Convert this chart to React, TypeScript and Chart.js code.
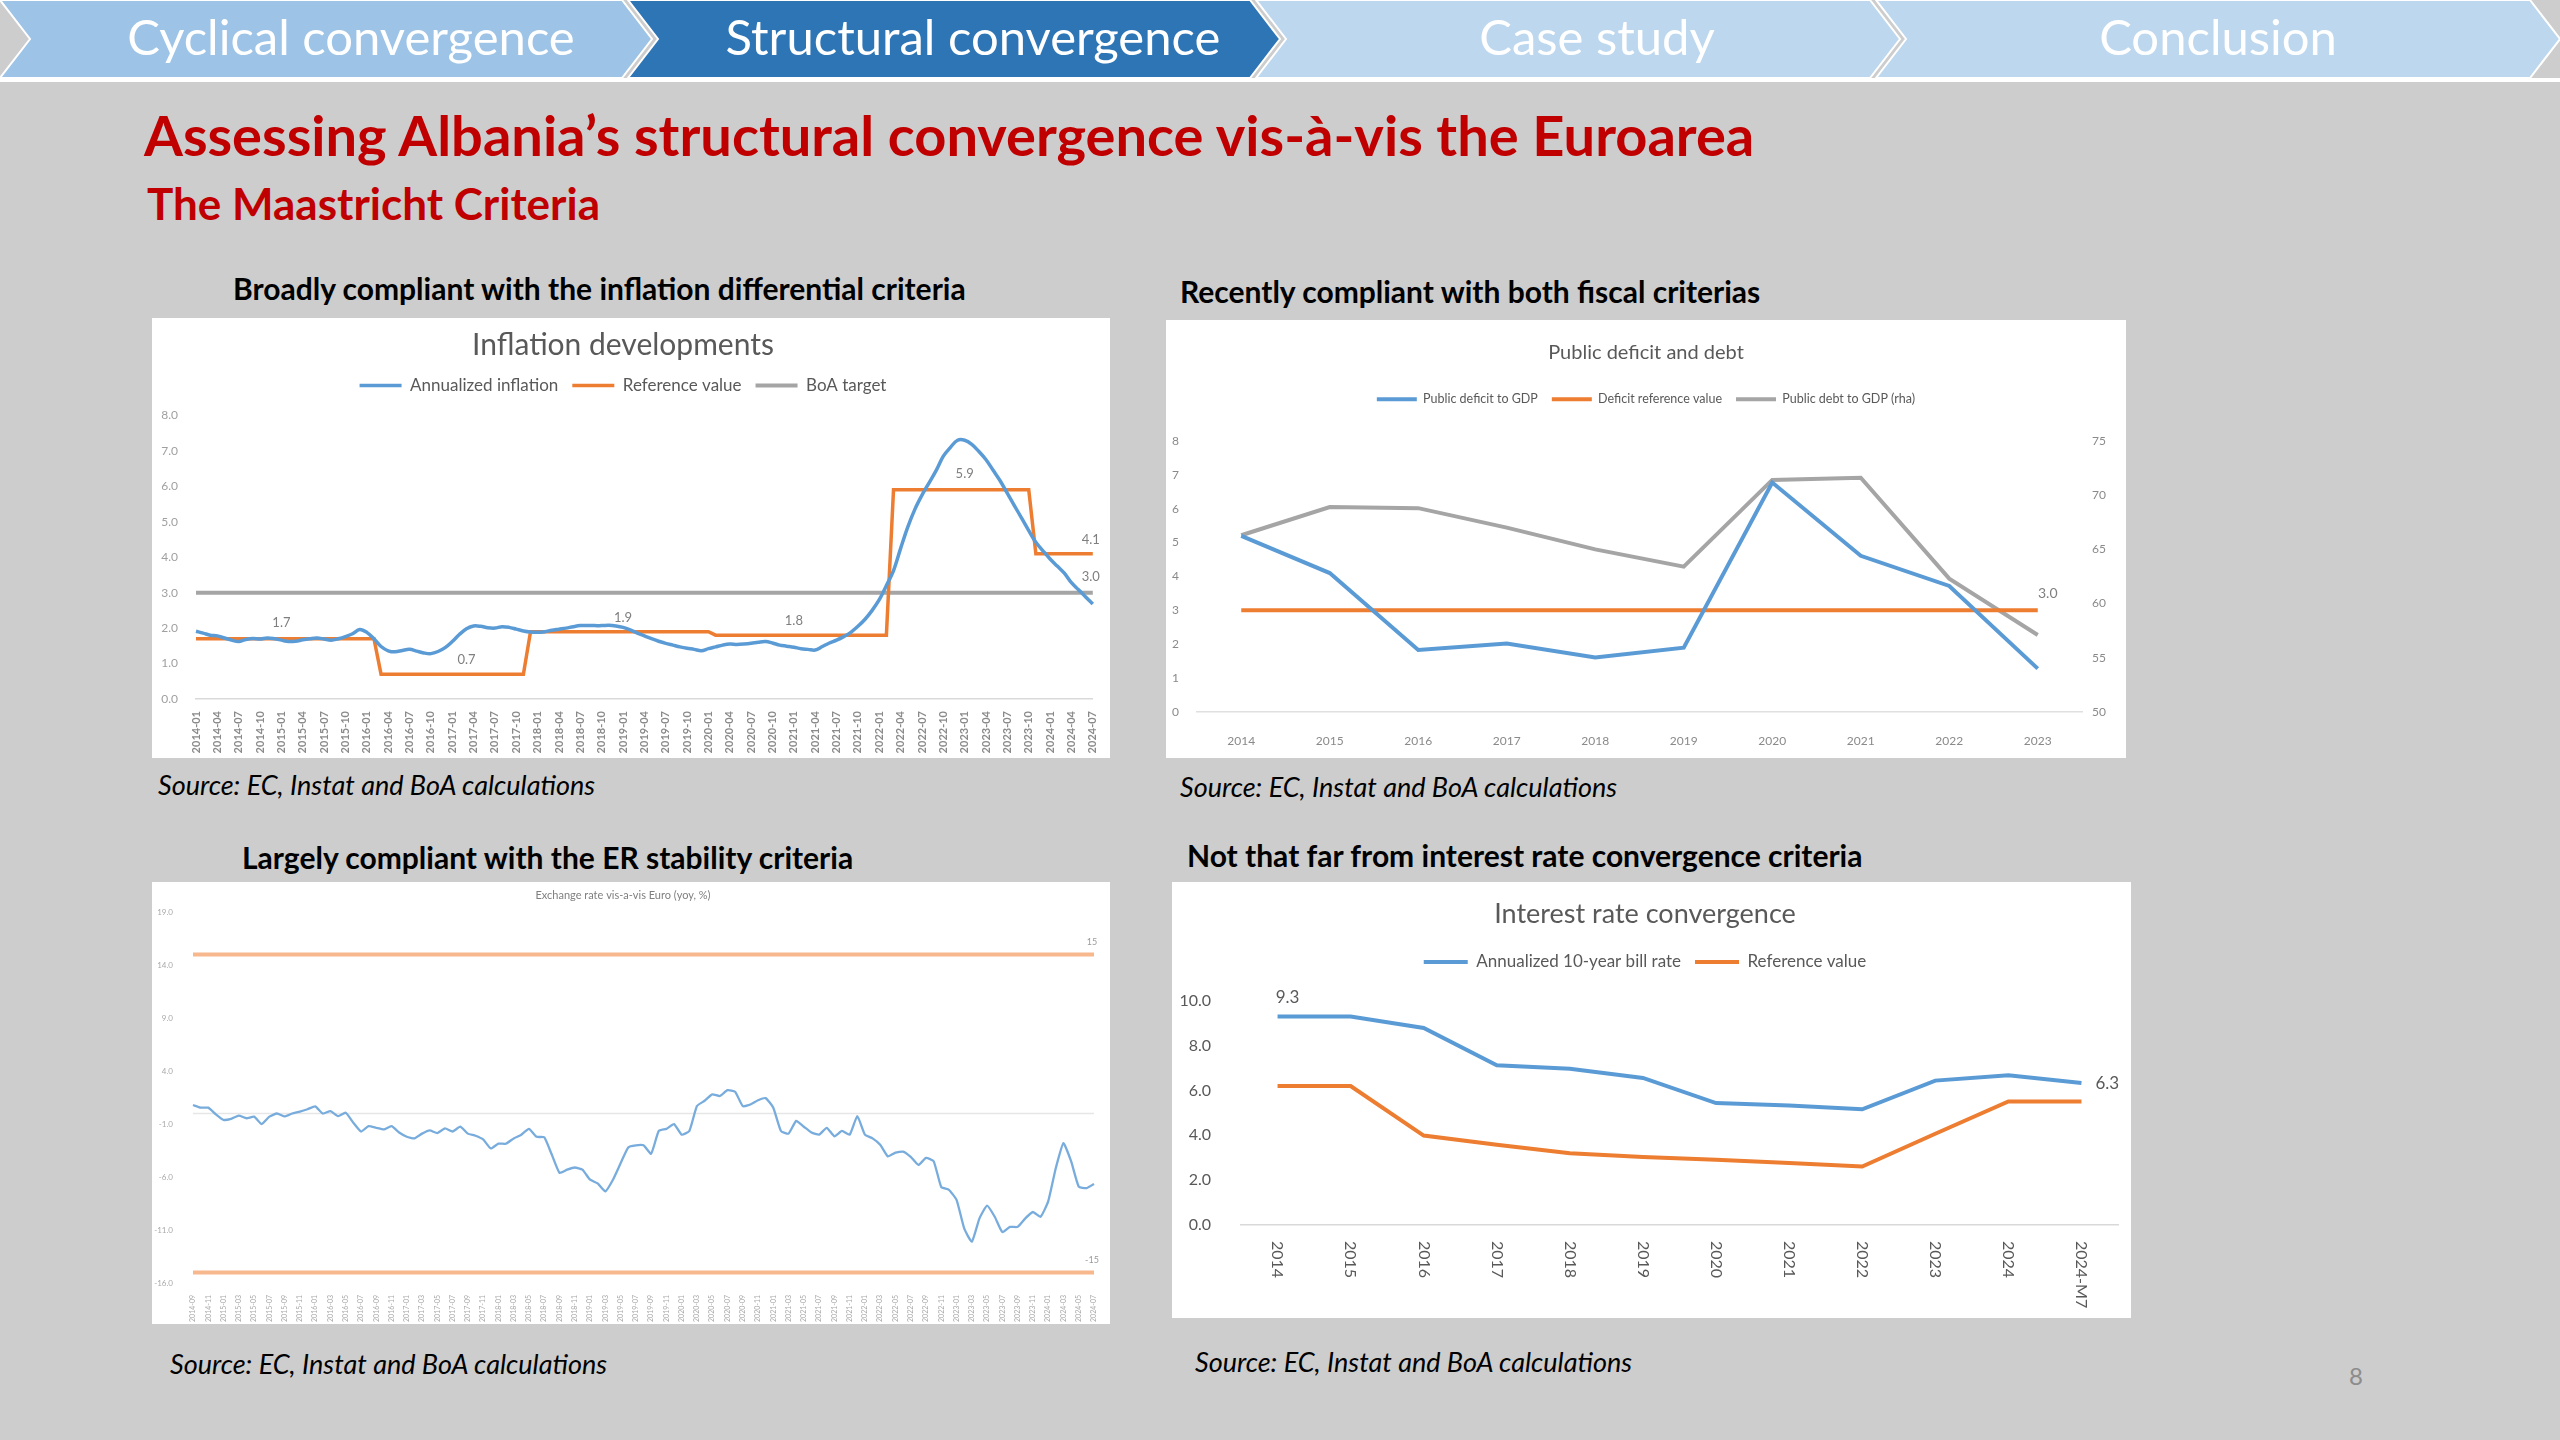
import React, { useEffect, useRef } from 'react';
import { Chart, registerables } from 'chart.js';

Chart.register(...registerables);

const FONT = 'Lato, "Open Sans", "DejaVu Sans", sans-serif';

// ---------- helpers for category labels ----------
function monthLabels(y: number, m: number, n: number): string[] {
  const out: string[] = [];
  for (let i = 0; i < n; i++) {
    const yy = y + Math.floor((m - 1 + i) / 12);
    const mm = ((m - 1 + i) % 12) + 1;
    out.push(`${yy}-${String(mm).padStart(2, '0')}`);
  }
  return out;
}

// ---------- Inflation developments (monthly 2014-01 .. 2024-07) ----------
const inflLabels = monthLabels(2014, 1, 127);
const inflAnnual = [
  1.91, 1.86, 1.80, 1.78, 1.72, 1.66, 1.62, 1.68, 1.71, 1.69, 1.72, 1.70,
  1.66, 1.62, 1.63, 1.67, 1.70, 1.72, 1.69, 1.66, 1.70, 1.76, 1.84, 1.96,
  1.88, 1.70, 1.48, 1.36, 1.33, 1.37, 1.40, 1.35, 1.30, 1.28, 1.34, 1.45,
  1.62, 1.82, 1.98, 2.06, 2.05, 2.01, 2.00, 2.04, 2.02, 1.97, 1.92, 1.89,
  1.88, 1.90, 1.94, 1.97, 2.00, 2.04, 2.07, 2.07, 2.07, 2.07, 2.08, 2.06,
  2.02, 1.95, 1.86, 1.78, 1.70, 1.63, 1.57, 1.52, 1.47, 1.43, 1.40, 1.36,
  1.42, 1.47, 1.52, 1.55, 1.54, 1.55, 1.57, 1.60, 1.62, 1.58, 1.52, 1.49,
  1.46, 1.42, 1.40, 1.38, 1.48, 1.58, 1.66, 1.76, 1.88, 2.05, 2.25, 2.50,
  2.80, 3.20, 3.62, 4.25, 4.85, 5.35, 5.75, 6.10, 6.45, 6.85, 7.10, 7.30,
  7.30, 7.18, 6.98, 6.75, 6.45, 6.15, 5.80, 5.45, 5.10, 4.75, 4.42, 4.18,
  3.95, 3.75, 3.55, 3.28, 3.08, 2.88, 2.68,
];
const inflReference = [
  1.7, 1.7, 1.7, 1.7, 1.7, 1.7, 1.7, 1.7, 1.7, 1.7, 1.7, 1.7,
  1.7, 1.7, 1.7, 1.7, 1.7, 1.7, 1.7, 1.7, 1.7, 1.7, 1.7, 1.7,
  1.7, 1.7, 0.7, 0.7, 0.7, 0.7, 0.7, 0.7, 0.7, 0.7, 0.7, 0.7,
  0.7, 0.7, 0.7, 0.7, 0.7, 0.7, 0.7, 0.7, 0.7, 0.7, 0.7, 1.9,
  1.9, 1.9, 1.9, 1.9, 1.9, 1.9, 1.9, 1.9, 1.9, 1.9, 1.9, 1.9,
  1.9, 1.9, 1.9, 1.9, 1.9, 1.9, 1.9, 1.9, 1.9, 1.9, 1.9, 1.9,
  1.9, 1.8, 1.8, 1.8, 1.8, 1.8, 1.8, 1.8, 1.8, 1.8, 1.8, 1.8,
  1.8, 1.8, 1.8, 1.8, 1.8, 1.8, 1.8, 1.8, 1.8, 1.8, 1.8, 1.8,
  1.8, 1.8, 5.9, 5.9, 5.9, 5.9, 5.9, 5.9, 5.9, 5.9, 5.9, 5.9,
  5.9, 5.9, 5.9, 5.9, 5.9, 5.9, 5.9, 5.9, 5.9, 5.9, 4.1, 4.1,
  4.1, 4.1, 4.1, 4.1, 4.1, 4.1, 4.1,
];
const boaTarget = [3.0, 3.0]; // constant from first to last month

// ---------- Public deficit and debt ----------
const fiscalYears = ['2014', '2015', '2016', '2017', '2018', '2019', '2020', '2021', '2022', '2023'];
const publicDeficit = [5.2, 4.1, 1.83, 2.02, 1.61, 1.9, 6.77, 4.61, 3.72, 1.28];
const deficitReference = [3.0, 3.0, 3.0, 3.0, 3.0, 3.0, 3.0, 3.0, 3.0, 3.0];
const publicDebt = [66.3, 68.9, 68.8, 67.0, 65.0, 63.4, 71.4, 71.6, 62.3, 57.1];

// ---------- Exchange rate vis-a-vis Euro (yoy, %) ----------
const erLabels = monthLabels(2014, 9, 119);
const erYoy = [
  0.8, 0.55, 0.55, -0.08, -0.6, -0.5, -0.2, -0.45, -0.3, -1.0,
  -0.3, 0.0, -0.27, 0.0, 0.17, 0.4, 0.68, 0.0, 0.23, -0.25,
  0.07, -0.87, -1.7, -1.2, -1.35, -1.5, -1.2, -1.8, -2.2, -2.35,
  -1.9, -1.6, -1.85, -1.4, -1.7, -1.25, -1.9, -2.1, -2.45, -3.3,
  -2.85, -2.85, -2.35, -2.0, -1.45, -2.2, -2.25, -3.9, -5.6, -5.3,
  -5.1, -5.3, -6.25, -6.6, -7.35, -6.25, -4.7, -3.2, -3.0, -3.0,
  -3.8, -1.65, -1.45, -1.0, -2.0, -1.65, 0.7, 1.2, 1.8, 1.65,
  2.2, 2.05, 0.7, 0.85, 1.25, 1.45, 0.55, -1.65, -1.9, -0.7,
  -1.25, -1.8, -2.0, -1.35, -2.15, -1.65, -2.0, -0.25, -2.0, -2.35,
  -2.95, -4.05, -3.7, -3.6, -4.1, -4.85, -4.2, -4.5, -6.95, -7.2,
  -8.15, -10.85, -12.1, -9.9, -8.7, -9.75, -11.2, -10.7, -10.7, -9.9,
  -9.3, -9.75, -8.3, -5.15, -2.8, -4.5, -6.9, -7.05, -6.65,
];
const erUpperBand = [15, 15];
const erLowerBand = [-15, -15];
const erTicks = [-16, -11, -6, -1, 4, 9, 14, 19];

// ---------- Interest rate convergence ----------
const irLabels = ['2014', '2015', '2016', '2017', '2018', '2019', '2020', '2021', '2022', '2023', '2024', '2024-M7'];
const irBillRate = [9.3, 9.3, 8.79, 7.12, 6.97, 6.56, 5.44, 5.33, 5.16, 6.44, 6.68, 6.33];
const irReference = [6.2, 6.2, 3.99, 3.58, 3.2, 3.03, 2.91, 2.77, 2.61, 4.07, 5.51, 5.51];

// ---------- colours ----------
const BLUE = '#5b9bd5';
const ORANGE = '#ed7d31';
const GREY = '#a5a5a5';
const TXT = '#595959';

// ---------- plugins ----------
const pointLabels = {
  id: 'pointLabels',
  afterDatasetsDraw(chart: any, _args: any, opts: any) {
    const items = (opts && opts.items) || [];
    const ctx = chart.ctx;
    items.forEach((it: any) => {
      const meta = chart.getDatasetMeta(it.ds);
      const el = meta && meta.data[it.idx];
      if (!el) return;
      const raw = chart.data.datasets[it.ds].data[it.idx];
      const v = typeof raw === 'object' && raw !== null ? raw.y : raw;
      ctx.save();
      ctx.font = opts.font;
      ctx.fillStyle = opts.color;
      ctx.textAlign = it.align || 'center';
      ctx.textBaseline = 'middle';
      ctx.fillText(Number(v).toFixed(it.dec ?? 1), el.x + (it.dx || 0), el.y + (it.dy || 0));
      ctx.restore();
    });
  },
};

const zeroLine = {
  id: 'zeroLine',
  beforeDatasetsDraw(chart: any) {
    const y = chart.scales.y.getPixelForValue(0);
    const { left, right } = chart.chartArea;
    const ctx = chart.ctx;
    ctx.save();
    ctx.strokeStyle = '#e6e6e6';
    ctx.lineWidth = 1.5;
    ctx.beginPath();
    ctx.moveTo(left, y);
    ctx.lineTo(right, y);
    ctx.stroke();
    ctx.restore();
  },
};

// x tick labels rotated clockwise (reading top to bottom), placed on the library's x scale
const cwLabels = {
  id: 'cwLabels',
  afterDraw(chart: any, _args: any, opts: any) {
    const xs = chart.scales.x;
    const ctx = chart.ctx;
    ctx.save();
    ctx.font = opts.font;
    ctx.fillStyle = opts.color;
    ctx.textAlign = 'left';
    ctx.textBaseline = 'middle';
    (chart.data.labels as string[]).forEach((lab, i) => {
      const x = xs.getPixelForValue(i);
      ctx.save();
      ctx.translate(x, xs.top + opts.pad);
      ctx.rotate(Math.PI / 2);
      ctx.fillText(lab, 0, 0);
      ctx.restore();
    });
    ctx.restore();
  },
};

const fixW = (w: number) => (s: any) => { s.width = w; };
const fixH = (h: number) => (s: any) => { s.height = h; };

const legendOpts = (size: number, pad: number, w: number) => ({
  display: true,
  position: 'top',
  labels: {
    usePointStyle: true,
    pointStyle: 'line',
    pointStyleWidth: w,
    color: TXT,
    padding: pad,
    font: { family: FONT, size },
  },
});

// empty box placed between the legend and the plot area (weight below the legend's)
const gapBox = (gap: number) => ({
  display: true,
  text: ' ',
  position: 'top',
  weight: 500,
  font: { size: 2 },
  padding: { top: gap, bottom: 0 },
});

// ---------- chart configs ----------
function inflationConfig(): any {
  const last = inflLabels.length - 1;
  return {
    type: 'line',
    data: {
      labels: inflLabels,
      datasets: [
        { label: 'Annualized inflation', data: inflAnnual, borderColor: BLUE, backgroundColor: BLUE, borderWidth: 3.5, pointRadius: 0, tension: 0.35 },
        { label: 'Reference value', data: inflReference, borderColor: ORANGE, backgroundColor: ORANGE, borderWidth: 3.5, pointRadius: 0, tension: 0 },
        {
          label: 'BoA target',
          data: [{ x: inflLabels[0], y: boaTarget[0] }, { x: inflLabels[last], y: boaTarget[1] }],
          borderColor: GREY, backgroundColor: GREY, borderWidth: 4, pointRadius: 0,
        },
      ],
    },
    options: {
      animation: false,
      responsive: true,
      maintainAspectRatio: false,
      layout: { padding: { left: 0, right: 16, top: 4, bottom: 0 } },
      plugins: {
        title: { display: true, text: 'Inflation developments', color: TXT, font: { family: FONT, size: 30, weight: 'normal' }, padding: { top: 5, bottom: 0 } },
        subtitle: gapBox(9),
        legend: legendOpts(17, 14, 42),
        tooltip: { enabled: false },
        pointLabels: {
          font: `13px ${FONT}`,
          color: '#7f7f7f',
          items: [
            { ds: 1, idx: 12, dy: -16 },
            { ds: 1, idx: 38, dy: -14 },
            { ds: 1, idx: 60, dy: -14 },
            { ds: 1, idx: 84, dy: -14 },
            { ds: 1, idx: 108, dy: -16 },
            { ds: 1, idx: 126, dy: -14, dx: -2 },
            { ds: 2, idx: 1, dy: -16, dx: -2 },
          ],
        },
      },
      scales: {
        x: {
          grid: { display: false },
          border: { display: true, color: '#d9d9d9', width: 1.5 },
          afterFit: fixH(59),
          ticks: {
            autoSkip: false, minRotation: 90, maxRotation: 90, padding: 4,
            color: '#8a8a8a', font: { family: FONT, size: 11, weight: 'bold' },
            callback: (_v: any, i: number) => (i % 3 === 0 ? inflLabels[i] : ''),
          },
        },
        y: {
          min: 0, max: 8,
          grid: { display: false },
          border: { display: false },
          afterFit: fixW(44),
          ticks: { stepSize: 1, padding: 10, color: '#a0a0a0', font: { family: FONT, size: 12 }, callback: (v: any) => Number(v).toFixed(1) },
        },
      },
    },
    plugins: [pointLabels],
  };
}

function fiscalConfig(): any {
  return {
    type: 'line',
    data: {
      labels: fiscalYears,
      datasets: [
        { label: 'Public deficit to GDP', data: publicDeficit, borderColor: BLUE, backgroundColor: BLUE, borderWidth: 4, pointRadius: 0, yAxisID: 'y' },
        { label: 'Deficit reference value', data: deficitReference, borderColor: ORANGE, backgroundColor: ORANGE, borderWidth: 4, pointRadius: 0, yAxisID: 'y' },
        { label: 'Public debt to GDP (rha)', data: publicDebt, borderColor: GREY, backgroundColor: GREY, borderWidth: 4, pointRadius: 0, yAxisID: 'y2' },
      ],
    },
    options: {
      animation: false,
      responsive: true,
      maintainAspectRatio: false,
      layout: { padding: { left: 0, right: 0, top: 8, bottom: 0 } },
      plugins: {
        title: { display: true, text: 'Public deficit and debt', color: TXT, font: { family: FONT, size: 20, weight: 'normal' }, padding: { top: 13, bottom: 14 } },
        subtitle: gapBox(23),
        legend: legendOpts(12.5, 14, 40),
        tooltip: { enabled: false },
        pointLabels: { font: `14px ${FONT}`, color: '#7f7f7f', items: [{ ds: 1, idx: 9, dy: -17, dx: 10 }] },
      },
      scales: {
        x: {
          offset: true,
          grid: { display: false },
          border: { display: true, color: '#e0e0e0', width: 1.5 },
          afterFit: fixH(46),
          ticks: { padding: 14, color: '#8a8a8a', font: { family: FONT, size: 12 }, maxRotation: 0 },
        },
        y: {
          position: 'left', min: 0, max: 8,
          grid: { display: false }, border: { display: false },
          afterFit: fixW(31),
          ticks: { stepSize: 1, padding: 10, color: '#8a8a8a', font: { family: FONT, size: 12 } },
        },
        y2: {
          position: 'right', min: 50, max: 75,
          grid: { display: false }, border: { display: false },
          afterFit: fixW(44),
          ticks: { stepSize: 5, padding: 2, color: '#8a8a8a', font: { family: FONT, size: 12 } },
        },
      },
    },
    plugins: [pointLabels],
  };
}

function erConfig(): any {
  const last = erLabels.length - 1;
  return {
    type: 'line',
    data: {
      labels: erLabels,
      datasets: [
        { label: 'ER yoy', data: erYoy, borderColor: '#78acdc', borderWidth: 2.3, pointRadius: 0, tension: 0.15 },
        { label: 'Upper', data: [{ x: erLabels[0], y: erUpperBand[0] }, { x: erLabels[last], y: erUpperBand[1] }], borderColor: '#f7b88d', borderWidth: 4, pointRadius: 0 },
        { label: 'Lower', data: [{ x: erLabels[0], y: erLowerBand[0] }, { x: erLabels[last], y: erLowerBand[1] }], borderColor: '#f7b88d', borderWidth: 4, pointRadius: 0 },
      ],
    },
    options: {
      animation: false,
      responsive: true,
      maintainAspectRatio: false,
      layout: { padding: { left: 0, right: 16, top: 0, bottom: 0 } },
      plugins: {
        title: { display: true, text: 'Exchange rate vis-a-vis Euro (yoy, %)', color: '#7f7f7f', font: { family: FONT, size: 11, weight: 'normal' }, padding: { top: 7, bottom: 10 } },
        legend: { display: false },
        tooltip: { enabled: false },
        pointLabels: {
          font: `9px ${FONT}`,
          color: '#9a9a9a',
          items: [
            { ds: 1, idx: 1, dy: -12, dx: -2, dec: 0 },
            { ds: 2, idx: 1, dy: -12, dx: -2, dec: 0 },
          ],
        },
      },
      scales: {
        x: {
          grid: { display: false },
          border: { display: false },
          afterFit: fixH(41),
          ticks: {
            autoSkip: false, minRotation: 90, maxRotation: 90, padding: 4,
            color: '#a8a8a8', font: { family: FONT, size: 7 },
            callback: (_v: any, i: number) => (i % 2 === 0 ? erLabels[i] : ''),
          },
        },
        y: {
          min: -16, max: 19,
          afterBuildTicks: (s: any) => { s.ticks = erTicks.map((v) => ({ value: v })); },
          grid: { display: false },
          border: { display: false },
          afterFit: fixW(41),
          ticks: { padding: 12, color: '#a8a8a8', font: { family: FONT, size: 8 }, callback: (v: any) => Number(v).toFixed(1) },
        },
      },
    },
    plugins: [zeroLine, pointLabels],
  };
}

function interestConfig(): any {
  return {
    type: 'line',
    data: {
      labels: irLabels,
      datasets: [
        { label: 'Annualized 10-year bill rate', data: irBillRate, borderColor: BLUE, backgroundColor: BLUE, borderWidth: 4, pointRadius: 0 },
        { label: 'Reference value', data: irReference, borderColor: ORANGE, backgroundColor: ORANGE, borderWidth: 4, pointRadius: 0 },
      ],
    },
    options: {
      animation: false,
      responsive: true,
      maintainAspectRatio: false,
      layout: { padding: { left: 0, right: 13, top: 8, bottom: 0 } },
      plugins: {
        title: { display: true, text: 'Interest rate convergence', color: TXT, font: { family: FONT, size: 27, weight: 'normal' }, padding: { top: 8, bottom: 9 } },
        subtitle: gapBox(18),
        legend: legendOpts(17, 14, 44),
        tooltip: { enabled: false },
        pointLabels: {
          font: `17px ${FONT}`,
          color: TXT,
          items: [
            { ds: 0, idx: 0, dy: -19, dx: 10 },
            { ds: 0, idx: 11, dy: 0, dx: 14, align: 'left' },
          ],
        },
        cwLabels: { font: `16px ${FONT}`, color: TXT, pad: 16 },
      },
      scales: {
        x: {
          offset: true,
          grid: { display: false },
          border: { display: true, color: '#d9d9d9', width: 1.5 },
          afterFit: fixH(93),
          ticks: { display: false },
        },
        y: {
          min: 0, max: 10,
          grid: { display: false }, border: { display: false },
          afterFit: fixW(69),
          ticks: { stepSize: 2, padding: 22, color: TXT, font: { family: FONT, size: 16 }, callback: (v: any) => Number(v).toFixed(1) },
        },
      },
    },
    plugins: [pointLabels, cwLabels],
  };
}

// ---------- components ----------
function ChartPanel({ make, left, top, width, height }: { make: () => any; left: number; top: number; width: number; height: number }) {
  const ref = useRef<HTMLCanvasElement>(null);
  useEffect(() => {
    const chart = new Chart(ref.current as HTMLCanvasElement, make());
    return () => chart.destroy();
  }, []);
  return (
    <div style={{ position: 'absolute', left, top, width, height, background: '#ffffff' }}>
      <canvas ref={ref} />
    </div>
  );
}

function Txt(props: { x: number; cy: number; size: number; text: string; color?: string; weight?: any; italic?: boolean; ls?: number }) {
  const lh = Math.round(props.size * 1.3);
  return (
    <div
      style={{
        position: 'absolute',
        left: props.x,
        top: props.cy - lh / 2,
        height: lh,
        lineHeight: `${lh}px`,
        fontSize: props.size,
        fontWeight: props.weight || 'normal',
        fontStyle: props.italic ? 'italic' : 'normal',
        color: props.color || '#000',
        letterSpacing: props.ls ? `${props.ls}px` : undefined,
        whiteSpace: 'nowrap',
        fontFamily: FONT,
      }}
    >
      {props.text}
    </div>
  );
}

const tabs = [
  { x0: 0, w: 622, fill: '#9dc3e6', text: 'Cyclical convergence', cx: 351 },
  { x0: 628, w: 622, fill: '#2e75b6', text: 'Structural convergence', cx: 973 },
  { x0: 1256, w: 614, fill: '#bdd7ee', text: 'Case study', cx: 1597 },
  { x0: 1876, w: 654, fill: '#bdd7ee', text: 'Conclusion', cx: 2218 },
];

function Header() {
  const h = 78;
  const d = 30;
  return (
    <svg width={2560} height={84} style={{ position: 'absolute', left: 0, top: 0 }}>
      <rect x={0} y={78} width={2560} height={4} fill="#ffffff" />
      {tabs.map((t, i) => (
        <polygon
          key={i}
          points={`${t.x0},0 ${t.x0 + t.w},0 ${t.x0 + t.w + d},${h / 2} ${t.x0 + t.w},${h} ${t.x0},${h} ${t.x0 + d},${h / 2}`}
          fill={t.fill}
          stroke="#ffffff"
          strokeWidth={2}
        />
      ))}
      {tabs.map((t, i) => (
        <text key={'t' + i} x={t.cx} y={43} fill="#ffffff" fontSize={49} fontFamily="Lato, sans-serif" textAnchor="middle" dominantBaseline="middle">
          {t.text}
        </text>
      ))}
    </svg>
  );
}

export default function App() {
  return (
    <div style={{ position: 'absolute', left: 0, top: 0, width: 2560, height: 1440, background: '#cdcdcd', overflow: 'hidden', fontFamily: FONT }}>
      <Header />
      <Txt x={144} cy={134} size={56} weight="bold" color="#c00000" text="Assessing Albania’s structural convergence vis-à-vis the Euroarea" />
      <Txt x={147} cy={203} size={44} weight="bold" color="#c00000" text="The Maastricht Criteria" />

      <Txt x={233} cy={288} size={30} weight="bold" text="Broadly compliant with the inflation differential criteria" />
      <Txt x={1180} cy={291} size={30} weight="bold" text="Recently compliant with both fiscal criterias" />
      <Txt x={242} cy={857} size={30} weight="bold" text="Largely compliant with the ER stability criteria" />
      <Txt x={1187} cy={855} size={30} weight="bold" text="Not that far from interest rate convergence criteria" />

      <ChartPanel make={inflationConfig} left={152} top={318} width={958} height={440} />
      <ChartPanel make={fiscalConfig} left={1166} top={320} width={960} height={438} />
      <ChartPanel make={erConfig} left={152} top={882} width={958} height={442} />
      <ChartPanel make={interestConfig} left={1172} top={882} width={959} height={436} />

      <Txt x={158} cy={784} size={27} italic text="Source: EC, Instat and BoA calculations" />
      <Txt x={1180} cy={786} size={27} italic text="Source: EC, Instat and BoA calculations" />
      <Txt x={170} cy={1363} size={27} italic text="Source: EC, Instat and BoA calculations" />
      <Txt x={1195} cy={1361} size={27} italic text="Source: EC, Instat and BoA calculations" />

      <Txt x={2349} cy={1375} size={24} color="#8c8c8c" text="8" />
    </div>
  );
}
